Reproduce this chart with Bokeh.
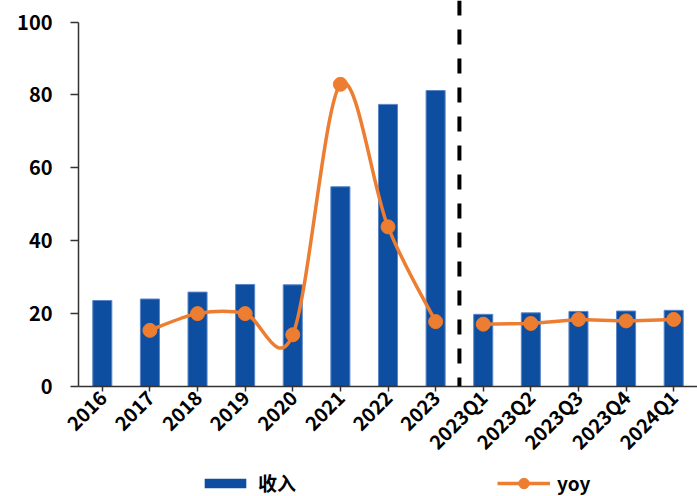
import numpy as np
from bokeh.plotting import figure
from bokeh.layouts import column
from bokeh.models import FactorRange, Range1d, Span, Legend, LegendItem, FixedTicker
from bokeh.embed import file_html
from bokeh.resources import INLINE

categories = ["2016", "2017", "2018", "2019", "2020", "2021", "2022", "2023",
              "2023Q1", "2023Q2", "2023Q3", "2023Q4", "2024Q1"]
revenue = [23.6, 24.0, 25.9, 28.0, 27.9, 54.8, 77.4, 81.2, 19.8, 20.2, 20.6, 20.7, 20.9]

yoy_annual_cats = ["2017", "2018", "2019", "2020", "2021", "2022", "2023"]
yoy_annual = [15.4, 20.0, 20.0, 14.2, 82.9, 43.8, 17.8]

yoy_quarter_cats = ["2023Q1", "2023Q2", "2023Q3", "2023Q4", "2024Q1"]
yoy_quarter = [17.1, 17.3, 18.4, 18.0, 18.4]

y_ticks = [0, 20, 40, 60, 80, 100]

BLUE = "#0D4EA1"
ORANGE = "#ED7D31"
FONT = "Noto Sans CJK SC"

p = figure(width=697, height=468, output_backend="svg", toolbar_location=None,
           x_range=FactorRange(*categories, range_padding=0),
           y_range=Range1d(0, 105.9),
           min_border_left=78, min_border_right=0, min_border_top=0, min_border_bottom=80)
p.outline_line_color = None
p.xgrid.visible = False
p.ygrid.visible = False

bars = p.vbar(x=categories, top=revenue, width=0.4, fill_color=BLUE,
              line_color="#5A86C8", line_width=1)

# smoothed annual yoy via cubic bezier segments (control points from the data)
xs = np.array([categories.index(c) + 0.5 for c in yoy_annual_cats])
ys = np.array(yoy_annual, dtype=float)
n = len(xs)
t = 1.0 / 6.0
x0, y0, x1, y1, cx0, cy0, cx1, cy1 = [], [], [], [], [], [], [], []
for i in range(n - 1):
    pm = i - 1 if i > 0 else i
    pp = i + 2 if i + 2 < n else i + 1
    x0.append(xs[i]); y0.append(ys[i]); x1.append(xs[i + 1]); y1.append(ys[i + 1])
    cx0.append(xs[i] + (xs[i + 1] - xs[pm]) * t)
    cy0.append(ys[i] + (ys[i + 1] - ys[pm]) * t)
    cx1.append(xs[i + 1] - (xs[pp] - xs[i]) * t)
    cy1.append(ys[i + 1] - (ys[pp] - ys[i]) * t)
p.bezier(x0=x0, y0=y0, x1=x1, y1=y1, cx0=cx0, cy0=cy0, cx1=cx1, cy1=cy1,
         line_color=ORANGE, line_width=3.5)

p.line(x=yoy_quarter_cats, y=yoy_quarter, line_color=ORANGE, line_width=3.5)
p.scatter(x=yoy_annual_cats, y=yoy_annual, size=14, fill_color=ORANGE, line_color=ORANGE)
p.scatter(x=yoy_quarter_cats, y=yoy_quarter, size=14, fill_color=ORANGE, line_color=ORANGE)

span = Span(location=8, dimension="height", line_color="black", line_width=4, line_dash="15 14")
p.add_layout(span)

# axes
p.yaxis.ticker = FixedTicker(ticks=y_ticks)
p.yaxis.bounds = (0, 100)
p.yaxis.minor_tick_line_color = None
p.yaxis.major_tick_in = 0
p.yaxis.major_tick_out = 8
p.yaxis.major_label_standoff = 18
p.yaxis.axis_line_color = "#333333"
p.yaxis.axis_line_width = 1.5
p.yaxis.major_tick_line_color = "#333333"
p.yaxis.major_tick_line_width = 1.5
p.yaxis.major_label_text_font = FONT
p.yaxis.major_label_text_font_style = "bold"
p.yaxis.major_label_text_font_size = "20px"
p.yaxis.major_label_text_color = "black"

p.xaxis.major_tick_in = 0
p.xaxis.major_tick_out = 5
p.xaxis.axis_line_color = "#333333"
p.xaxis.axis_line_width = 1.5
p.xaxis.major_tick_line_color = "#333333"
p.xaxis.major_tick_line_width = 1.5
p.xaxis.major_label_orientation = np.pi / 4
p.xaxis.major_label_standoff = 2
p.xaxis.major_label_text_font = FONT
p.xaxis.major_label_text_font_style = "bold"
p.xaxis.major_label_text_font_size = "19.5px"
p.xaxis.major_label_text_color = "black"

# legend strip (same series as hidden renderers, so only the legend entries show)
lg = figure(width=697, height=28, output_backend="svg", toolbar_location=None,
            x_axis_location=None, y_axis_location=None,
            x_range=FactorRange(*categories, range_padding=0), y_range=Range1d(-200, -100),
            min_border_left=0, min_border_right=0, min_border_top=0, min_border_bottom=0)
lg.grid.visible = False
lg.outline_line_color = None
lbars = lg.vbar(x=categories, top=revenue, width=0.4, fill_color=BLUE, line_color=None, visible=False)
lline = lg.line(x=yoy_quarter_cats, y=yoy_quarter, line_color=ORANGE, line_width=3.5, visible=False)
ldots = lg.scatter(x=yoy_quarter_cats, y=yoy_quarter, size=14, fill_color=ORANGE,
                   line_color=ORANGE, visible=False)

common = dict(orientation="horizontal", label_standoff=7, padding=0, margin=0,
              border_line_color=None, background_fill_alpha=0, click_policy="none",
              label_text_font=FONT, label_text_font_style="bold",
              label_text_font_size="19px", label_text_color="black")
leg1 = Legend(items=[LegendItem(label="收入", renderers=[lbars])], location=(121, 0),
              glyph_width=52, glyph_height=12, **common)
leg2 = Legend(items=[LegendItem(label="yoy", renderers=[lline, ldots])], location=(419, 0),
              glyph_width=53, glyph_height=26, **common)
lg.add_layout(leg1)
lg.add_layout(leg2)

layout = column(p, lg, spacing=0)
open("out.html", "w").write(file_html(layout, INLINE))
